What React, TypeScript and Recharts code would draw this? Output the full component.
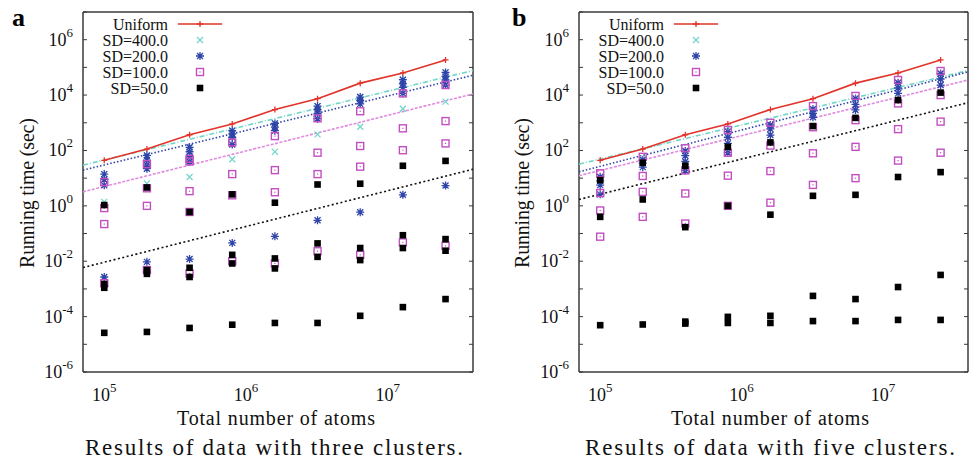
import { ScatterChart, Scatter, XAxis, YAxis } from "recharts";

// problem sizes (total number of atoms)
const SIZES = [1e5, 2e5, 4e5, 8e5, 1.6e6, 3.2e6, 6.4e6, 1.28e7, 2.56e7];
const X_TICKS = [1e5, 1e6, 1e7];
const Y_TICKS = [1e-6, 1e-5, 1e-4, 1e-3, 1e-2, 1e-1, 1, 10, 100, 1e3, 1e4, 1e5, 1e6, 1e7];
const X_DOMAIN = [70800, 4.0e7];
const Y_DOMAIN = [1e-6, 1e7];
const FIT_X = [70800, 4.0e7];

// uniform baseline, same in both panels
const UNIFORM = [44, 112, 370, 910, 3000, 7400, 27000, 63000, 186000];

// panel a: three clusters (several runs per size)
const A_SD400 = [[14, 1.4], [66, 6.5], [130, 11], [520, 48], [950, 89], [4000, 380], [8500, 720], [36000, 3200], [66000, 5800]];
const A_SD200 = [[14, 9, 5.5, 0.0027], [66, 45, 30, 22, 0.0095], [130, 90, 60, 40, 0.012], [520, 400, 300, 165, 0.046], [950, 700, 520, 0.079], [4000, 3000, 2200, 1400, 0.3], [8500, 6300, 4800, 0.59], [36000, 26000, 19000, 11500, 2.5], [66000, 47000, 35000, 23000, 5.4]];
const A_SD100 = [[7.2, 0.83, 0.22, 0.0016], [32, 4.3, 1.0, 0.0048], [50, 40, 3.4, 0.6, 0.0036], [195, 14, 2.4, 0.01], [330, 19.5, 3.1, 0.0083], [1450, 83, 14, 0.023], [2600, 145, 26, 0.017], [11500, 630, 102, 0.048], [23000, 1150, 180, 0.036]];
const A_SD50 = [[1.07, 0.0015, 0.0011, 2.6e-5], [4.6, 0.0048, 0.0035, 2.8e-5], [0.6, 0.0058, 0.0027, 3.9e-5], [2.6, 0.017, 0.0083, 5.1e-5], [1.3, 0.0126, 0.0055, 5.9e-5], [5.9, 0.044, 0.0144, 5.9e-5], [6.3, 0.03, 0.011, 1.07e-4], [28, 0.087, 0.03, 2.2e-4], [42, 0.063, 0.024, 4.3e-4]];
const A_FIT400 = [29.5, 77000];
const A_FIT200 = [19.5, 52000];
const A_FIT100 = [3.2, 11000];
const A_FIT50 = [0.0059, 21];

// panel b: five clusters
const B_SD400 = [[11], [49], [95], [480], [830], [3100], [7600], [28000], [60000]];
const B_SD200 = [[11, 8, 5.6, 2.6], [45, 35, 25], [95, 65, 40, 19], [480, 300, 180, 83], [830, 600, 360], [3100, 2200, 1580], [7600, 4600, 2900], [28000, 18000, 11500], [60000, 38000, 23000]];
const B_SD100 = [[15, 2.9, 0.68, 0.077], [59, 12, 3.2, 0.4], [120, 19, 2.8, 0.23], [550, 83, 12.3, 1.0], [1000, 150, 18, 1.3], [4000, 690, 79, 5.7], [9300, 1240, 135, 10], [35000, 5000, 590, 43], [74000, 10000, 1100, 83]];
const B_SD50 = [[8.5, 0.4, 4.9e-5], [36, 1.7, 5.2e-5], [28, 0.17, 6.6e-5, 5.6e-5], [135, 1.0, 9.8e-5, 5.9e-5], [195, 0.48, 1.07e-4, 5.9e-5], [760, 2.3, 5.6e-4, 6.9e-5], [1500, 2.5, 4.3e-4, 6.9e-5], [6600, 11, 1.17e-3, 7.6e-5], [12300, 16.5, 3.2e-3, 7.6e-5]];
const B_FIT400 = [32, 77000];
const B_FIT200 = [17, 69000];
const B_FIT100 = [12.3, 35000];
const B_FIT50 = [1.7, 5300];

const RED = "#e2332a";
const CYAN = "#6fd6c8";
const BLUE = "#2f44a8";
const PINK = "#c24fc2";
const AXIS = "#3a3a3a";
const SERIF = "'Liberation Serif', 'Times New Roman', serif";

const toPoints = (cols: number[][]) => cols.flatMap((vals, i) => vals.map((y) => ({ x: SIZES[i], y })));
const linePoints = (vals: number[]) => vals.map((y, i) => ({ x: SIZES[i], y }));
const fitPoints = (ends: number[]) => ends.map((y, i) => ({ x: FIT_X[i], y }));

const Nothing = () => <g />;

const PlusMark = ({ cx, cy }: any) => (
  <path d={`M${cx - 3},${cy}h6M${cx},${cy - 3}v6`} stroke={RED} strokeWidth={1.3} />
);
const CrossMark = ({ cx, cy }: any) => (
  <path d={`M${cx - 3},${cy - 3}l6,6M${cx - 3},${cy + 3}l6,-6`} stroke={CYAN} strokeWidth={1.2} fill="none" />
);
const StarMark = ({ cx, cy }: any) => (
  <path
    d={`M${cx - 4},${cy}h8M${cx},${cy - 4}v8M${cx - 3},${cy - 3}l6,6M${cx - 3},${cy + 3}l6,-6`}
    stroke={BLUE}
    strokeWidth={1.3}
    fill="none"
  />
);
const BoxMark = ({ cx, cy }: any) => (
  <g>
    <rect x={cx - 3.5} y={cy - 3.5} width={7} height={7} fill="none" stroke={PINK} strokeWidth={1.4} />
    <rect x={cx - 0.6} y={cy - 0.6} width={1.2} height={1.2} fill={PINK} />
  </g>
);
const SquareMark = ({ cx, cy }: any) => <rect x={cx - 3.3} y={cy - 3.3} width={6.6} height={6.6} fill="#000" />;

const XTick = ({ x, y, payload }: any) => {
  const e = Math.round(Math.log10(payload.value));
  return (
    <text x={x} y={y + 27} textAnchor="middle" fontFamily={SERIF} fontSize={18} fill="#111">
      10<tspan fontSize={13} dy={-9}>{e}</tspan>
    </text>
  );
};

const YTick = ({ x, y, payload }: any) => {
  const e = Math.round(Math.log10(payload.value));
  if (e % 2 !== 0) return <g />;
  return (
    <text x={x} y={y + 6} textAnchor="end" fontFamily={SERIF} fontSize={18} fill="#111">
      10<tspan fontSize={13} dy={-9}>{e}</tspan>
    </text>
  );
};

type PanelProps = {
  left: number;
  width: number;
  marginLeft: number;
  marginRight: number;
  letter: string;
  letterX: number;
  ylabelX: number;
  labelX: number;
  captionX: number;
  captionLength: number;
  caption: string;
  legendRight: number;
  sd400: number[][];
  sd200: number[][];
  sd100: number[][];
  sd50: number[][];
  fits: number[][];
};

const Panel = (p: PanelProps) => {
  const sx = p.legendRight + 32;
  const rows = [
    { label: "SD=400.0", mark: <CrossMark cx={sx} cy={40} /> },
    { label: "SD=200.0", mark: <StarMark cx={sx} cy={56} /> },
    { label: "SD=100.0", mark: <BoxMark cx={sx} cy={72} /> },
    { label: "SD=50.0", mark: <SquareMark cx={sx} cy={88} /> },
  ];
  const fitStyles = [
    { stroke: CYAN, strokeDasharray: "5 2 1 2" },
    { stroke: BLUE, strokeDasharray: "1.5 2" },
    { stroke: "#e08ae0", strokeDasharray: "3 1.5" },
    { stroke: "#111", strokeDasharray: "2 2.5" },
  ];
  return (
    <div style={{ position: "absolute", left: p.left, top: 0, width: p.width, height: 470 }}>
      <ScatterChart
        width={p.width}
        height={470}
        margin={{ top: 12, right: p.marginRight, bottom: 68, left: p.marginLeft }}
      >
        <XAxis
          xAxisId="x"
          dataKey="x"
          type="number"
          scale="log"
          domain={X_DOMAIN}
          allowDataOverflow
          ticks={X_TICKS}
          interval={0}
          tick={<XTick />}
          tickSize={0}
          tickLine={false}
          height={30}
          axisLine={{ stroke: AXIS, strokeWidth: 1.5 }}
        />
        <XAxis
          xAxisId="xb"
          type="number"
          scale="log"
          domain={X_DOMAIN}
          allowDataOverflow
          ticks={X_TICKS}
          interval={0}
          orientation="bottom"
          mirror
          tick={<Nothing />}
          tickSize={5}
          tickLine={{ stroke: AXIS }}
          axisLine={false}
        />
        <XAxis
          xAxisId="xt"
          type="number"
          scale="log"
          domain={X_DOMAIN}
          allowDataOverflow
          ticks={X_TICKS}
          interval={0}
          orientation="top"
          mirror
          tick={<Nothing />}
          tickSize={5}
          tickLine={{ stroke: AXIS }}
          axisLine={{ stroke: AXIS, strokeWidth: 1.5 }}
        />
        <YAxis
          yAxisId="y"
          dataKey="y"
          type="number"
          scale="log"
          domain={Y_DOMAIN}
          allowDataOverflow
          ticks={Y_TICKS}
          interval={0}
          tick={<YTick />}
          tickSize={0}
          tickMargin={10}
          tickLine={false}
          width={60}
          axisLine={{ stroke: AXIS, strokeWidth: 1.5 }}
        />
        <YAxis
          yAxisId="yl"
          type="number"
          scale="log"
          domain={Y_DOMAIN}
          allowDataOverflow
          ticks={Y_TICKS}
          interval={0}
          orientation="left"
          mirror
          tick={<Nothing />}
          tickSize={4}
          tickLine={{ stroke: AXIS }}
          axisLine={false}
        />
        <YAxis
          yAxisId="yr"
          type="number"
          scale="log"
          domain={Y_DOMAIN}
          allowDataOverflow
          ticks={Y_TICKS}
          interval={0}
          orientation="right"
          mirror
          tick={<Nothing />}
          tickSize={4}
          tickLine={{ stroke: AXIS }}
          axisLine={{ stroke: AXIS, strokeWidth: 1.5 }}
        />
        {p.fits.map((f, i) => (
          <Scatter
            key={`fit-${i}`}
            xAxisId="x"
            yAxisId="y"
            data={fitPoints(f)}
            line={{ strokeWidth: 1.6, ...fitStyles[i] }}
            shape={<Nothing />}
            isAnimationActive={false}
          />
        ))}
        <Scatter
          xAxisId="x"
          yAxisId="y"
          data={linePoints(UNIFORM)}
          line={{ stroke: RED, strokeWidth: 1.6 }}
          shape={<PlusMark />}
          isAnimationActive={false}
        />
        <Scatter xAxisId="x" yAxisId="y" data={toPoints(p.sd400)} shape={<CrossMark />} isAnimationActive={false} />
        <Scatter xAxisId="x" yAxisId="y" data={toPoints(p.sd200)} shape={<StarMark />} isAnimationActive={false} />
        <Scatter xAxisId="x" yAxisId="y" data={toPoints(p.sd100)} shape={<BoxMark />} isAnimationActive={false} />
        <Scatter xAxisId="x" yAxisId="y" data={toPoints(p.sd50)} shape={<SquareMark />} isAnimationActive={false} />
      </ScatterChart>
      <svg
        width={p.width}
        height={470}
        style={{ position: "absolute", left: 0, top: 0, pointerEvents: "none" }}
      >
        <text x={p.letterX} y={26} fontFamily={SERIF} fontWeight="bold" fontSize={26} fill="#000">
          {p.letter}
        </text>
        <text
          x={p.ylabelX}
          y={193}
          transform={`rotate(-90 ${p.ylabelX} 193)`}
          textAnchor="middle"
          dominantBaseline="central"
          fontFamily={SERIF}
          fontSize={20}
          textLength={150}
          fill="#111"
        >
          Running time (sec)
        </text>
        <text x={p.labelX} y={425} textAnchor="middle" fontFamily={SERIF} fontSize={20} textLength={198} fill="#111">
          Total number of atoms
        </text>
        <text
          x={p.captionX}
          y={455}
          textAnchor="middle"
          fontFamily={SERIF}
          fontSize={23}
          textLength={p.captionLength}
          fill="#111"
        >
          {p.caption}
        </text>
        <text x={p.legendRight} y={30} textAnchor="end" fontFamily={SERIF} fontSize={16} fill="#111">
          Uniform
        </text>
        <line x1={p.legendRight + 10} x2={p.legendRight + 54} y1={24} y2={24} stroke={RED} strokeWidth={1.6} />
        <PlusMark cx={sx} cy={24} />
        {rows.map((r, i) => (
          <g key={r.label}>
            <text x={p.legendRight} y={46 + i * 16} textAnchor="end" fontFamily={SERIF} fontSize={16} fill="#111">
              {r.label}
            </text>
            {r.mark}
          </g>
        ))}
      </svg>
    </div>
  );
};

export default function App() {
  return (
    <div style={{ position: "absolute", left: 0, top: 0, width: 971, height: 470, background: "#fff" }}>
      <Panel
        left={0}
        width={485}
        marginLeft={23}
        marginRight={12}
        letter="a"
        letterX={12}
        ylabelX={27}
        labelX={276}
        captionX={274}
        captionLength={378}
        caption="Results of data with three clusters."
        legendRight={168}
        sd400={A_SD400}
        sd200={A_SD200}
        sd100={A_SD100}
        sd50={A_SD50}
        fits={[A_FIT400, A_FIT200, A_FIT100, A_FIT50]}
      />
      <Panel
        left={490}
        width={481}
        marginLeft={29}
        marginRight={3}
        letter="b"
        letterX={22}
        ylabelX={32}
        labelX={280}
        captionX={280}
        captionLength={370}
        caption="Results of data with five clusters."
        legendRight={174}
        sd400={B_SD400}
        sd200={B_SD200}
        sd100={B_SD100}
        sd50={B_SD50}
        fits={[B_FIT400, B_FIT200, B_FIT100, B_FIT50]}
      />
    </div>
  );
}
